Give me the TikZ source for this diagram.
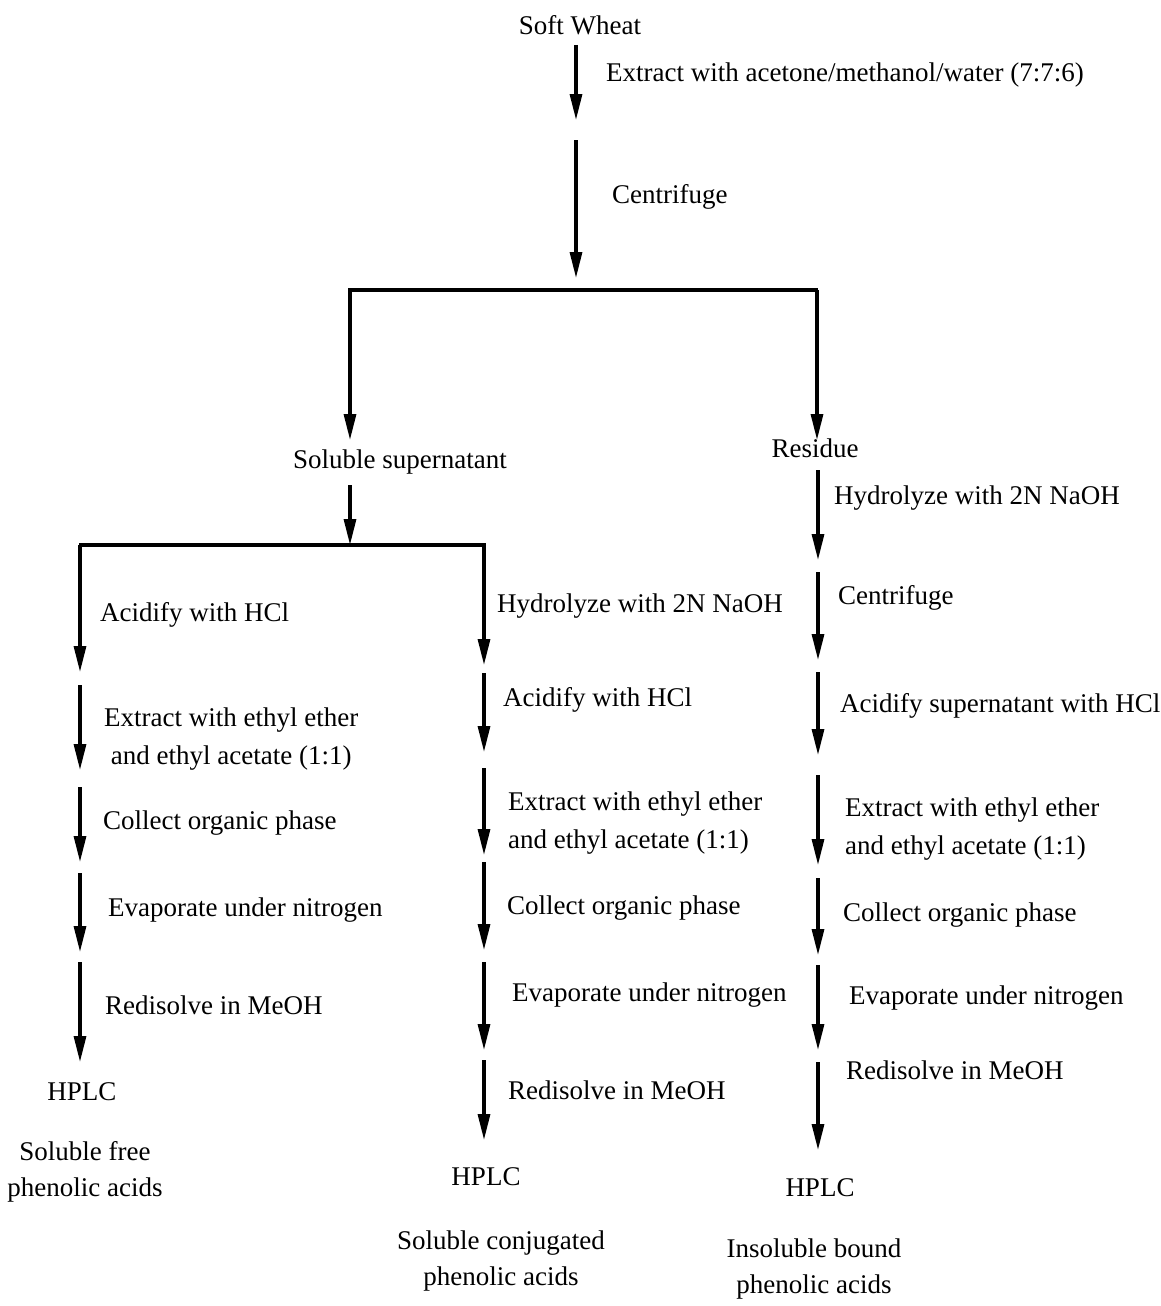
\documentclass[tikz,border=0pt]{standalone}
\usepackage{fontspec}
\setmainfont{Liberation Serif}
\usetikzlibrary{arrows.meta}

\tikzset{
  flow/.style={line width=3.2pt, -{Triangle[length=26pt,width=12pt]}},
  bar/.style={line width=3.2pt},
  stepnote/.style={anchor=west, inner sep=0pt, align=left, font=\fontsize{27}{37.5}\selectfont},
  stage/.style={inner sep=0pt, align=center, font=\fontsize{27}{36}\selectfont}
}

\begin{document}
\begin{tikzpicture}[x=1pt,y=-1pt]
  \useasboundingbox (0,0) rectangle (1161,1306);

  % start
  \node[stage] (wheat) at (580,25) {Soft Wheat};
  \coordinate (t1a) at (576,45);  \coordinate (t1b) at (576,120);
  \coordinate (t2a) at (576,140); \coordinate (t2b) at (576,278);
  \draw[flow] (t1a) -- (t1b);
  \draw[flow] (t2a) -- (t2b);
  \node[stepnote] (extract) at (606,75) {Extract with acetone/methanol/water (7:7:6)};
  \node[stepnote] (spin) at (612,197) {Centrifuge};

  % first split
  \coordinate (s1l) at (348,290); \coordinate (s1r) at (818,290);
  \draw[bar] (s1l) -- (s1r);
  \coordinate (s1la) at (350,290); \coordinate (s1lb) at (350,440);
  \coordinate (s1ra) at (817,290); \coordinate (s1rb) at (817,440);
  \draw[flow] (s1la) -- (s1lb);
  \draw[flow] (s1ra) -- (s1rb);
  \node[stage] (super) at (400,462) {Soluble supernatant};
  \node[stage] (resid) at (815,448) {Residue};

  % second split
  \coordinate (s2a) at (350,485); \coordinate (s2b) at (350,545);
  \draw[flow] (s2a) -- (s2b);
  \coordinate (s2l) at (79,545); \coordinate (s2r) at (486,545);
  \draw[bar] (s2l) -- (s2r);

  % soluble free
  \foreach \ya/\yb [count=\i] in {545/672,685/770,787/862,873/952,962/1062}{
    \coordinate (La\i) at (80,\ya); \coordinate (Lb\i) at (80,\yb);
    \draw[flow] (La\i) -- (Lb\i);
  }
  \node[stepnote] (l1) at (100,615) {Acidify with HCl};
  \node[stepnote, align=center] (l2) at (104,739) {Extract with ethyl ether\\and ethyl acetate (1:1)};
  \node[stepnote] (l3) at (103,823) {Collect organic phase};
  \node[stepnote] (l4) at (108,910) {Evaporate under nitrogen};
  \node[stepnote] (l5) at (105,1005) {Redisolve in MeOH};
  \node[stage] (hplcL) at (82,1092) {HPLC};
  \node[stage] (freeL) at (85,1172) {Soluble free\\phenolic acids};

  % soluble conjugated
  \foreach \ya/\yb [count=\i] in {545/665,673/752,768/855,862/950,962/1050,1060/1140}{
    \coordinate (Ma\i) at (484,\ya); \coordinate (Mb\i) at (484,\yb);
    \draw[flow] (Ma\i) -- (Mb\i);
  }
  \node[stepnote] (m1) at (497,606) {Hydrolyze with 2N NaOH};
  \node[stepnote] (m2) at (503,700) {Acidify with HCl};
  \node[stepnote] (m3) at (508,823) {Extract with ethyl ether\\and ethyl acetate (1:1)};
  \node[stepnote] (m4) at (507,908) {Collect organic phase};
  \node[stepnote] (m5) at (512,995) {Evaporate under nitrogen};
  \node[stepnote] (m6) at (508,1090) {Redisolve in MeOH};
  \node[stage] (hplcM) at (486,1177) {HPLC};
  \node[stage] (conjM) at (501,1261) {Soluble conjugated\\phenolic acids};

  % insoluble bound
  \foreach \ya/\yb [count=\i] in {470/560,572/660,672/755,775/865,878/955,965/1050,1062/1150}{
    \coordinate (Ra\i) at (818,\ya); \coordinate (Rb\i) at (818,\yb);
    \draw[flow] (Ra\i) -- (Rb\i);
  }
  \node[stepnote] (r1) at (834,498) {Hydrolyze with 2N NaOH};
  \node[stepnote] (r2) at (838,598) {Centrifuge};
  \node[stepnote] (r3) at (840,706) {Acidify supernatant with HCl};
  \node[stepnote] (r4) at (845,829) {Extract with ethyl ether\\and ethyl acetate (1:1)};
  \node[stepnote] (r5) at (843,915) {Collect organic phase};
  \node[stepnote] (r6) at (849,998) {Evaporate under nitrogen};
  \node[stepnote] (r7) at (846,1070) {Redisolve in MeOH};
  \node[stage] (hplcR) at (820,1188) {HPLC};
  \node[stage] (boundR) at (814,1269) {Insoluble bound\\phenolic acids};
\end{tikzpicture}
\end{document}
